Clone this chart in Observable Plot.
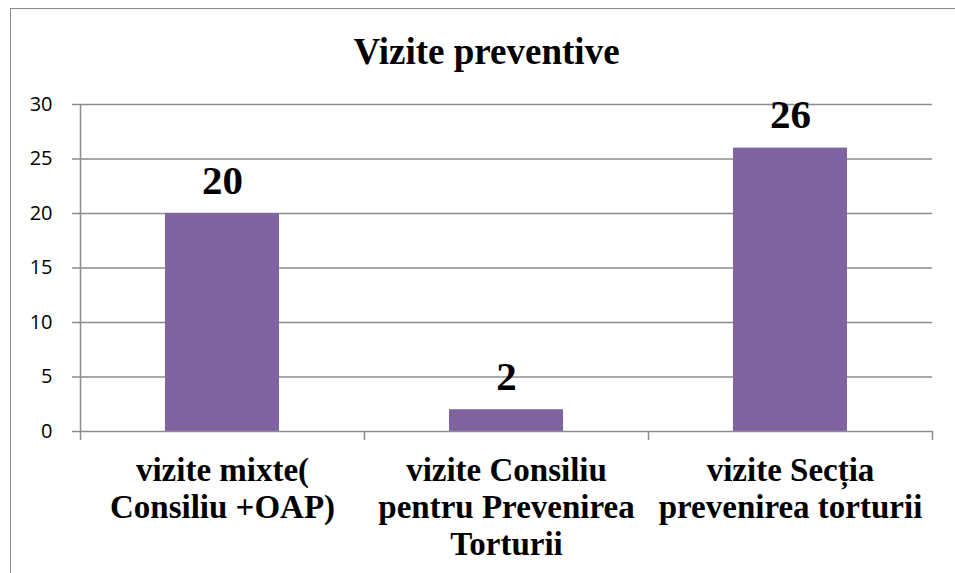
<!DOCTYPE html>
<html>
<head>
<meta charset="utf-8">
<script src="https://cdn.jsdelivr.net/npm/d3@7"></script>
<script src="https://cdn.jsdelivr.net/npm/@observablehq/plot@0.6"></script>
<style>
  html, body { margin: 0; padding: 0; background: #fff; overflow: hidden; }
  #wrap { position: relative; width: 955px; height: 573px; }
  #border { position: absolute; left: 10px; top: 8px; width: 1000px; height: 700px; border: 1px solid #8c8c8c; box-sizing: border-box; }
  #chart { position: absolute; left: 0; top: 0; }
</style>
</head>
<body>
<div id="wrap"><div id="border"></div><div id="chart"></div></div>
<script>
const title = "Vizite preventive";
const categories = [
  "vizite mixte(\nConsiliu +OAP)",
  "vizite Consiliu\npentru Prevenirea\nTorturii",
  "vizite Secția\nprevenirea torturii"
];
const values = [20, 2, 26];
const yTicks = [0, 5, 10, 15, 20, 25, 30];

const data = categories.map((c, i) => ({cat: c, i, value: values[i]}));
const lines = data.flatMap(d => d.cat.split("\n").map((t, k) => ({i: d.i, k, t})));
const bounds = d3.range(categories.length + 1);

const serif = "'Liberation Serif', 'Times New Roman', serif";
const sans = "'Open Sans', sans-serif";
const grid = "#8c8c8c";
const lineBase = [49, 86, 123];

const chart = Plot.plot({
  width: 955,
  height: 573,
  marginLeft: 80,
  marginRight: 23,
  marginTop: 104,
  marginBottom: 142,
  style: {background: "transparent", fontFamily: serif, fontSize: "20px", color: "#000"},
  x: {type: "linear", domain: [0, categories.length], axis: null},
  y: {type: "linear", domain: [0, 30], axis: null},
  marks: [
    Plot.ruleY(yTicks.filter(t => t > 0), {y: d => d, stroke: grid, strokeWidth: 1.5}),
    Plot.rectY(data, {x1: d => d.i, x2: d => d.i + 1, y1: 0, y2: "value", fill: "#8064A2", insetLeft: 85, insetRight: 85}),
    Plot.ruleY([0], {y: d => d, stroke: grid, strokeWidth: 1.5}),
    Plot.ruleX([0], {x: d => d, y1: 0, y2: 30, stroke: grid, strokeWidth: 1.5}),
    Plot.ruleX(bounds, {x: d => d, y1: 0, y2: 0, insetBottom: -9, stroke: grid, strokeWidth: 1.5}),
    Plot.text(yTicks, {x: 0, y: d => d, text: d => String(d), textAnchor: "end", dx: -28,
      fill: "#000", fontFamily: sans, fontSize: 20}),
    Plot.ruleY(yTicks, {y: d => d, x1: 0, x2: 0, insetLeft: -8, stroke: grid, strokeWidth: 1.5}),
    ...lineBase.map((dy, k) => Plot.text(lines.filter(l => l.k === k), {
      x: d => d.i + 0.5, y: 0, text: "t", lineAnchor: "bottom", dy,
      fill: "#000", fontFamily: serif, fontSize: 33, fontWeight: "bold"})),
    Plot.text(data, {x: d => d.i + 0.5, y: "value", text: d => String(d.value), lineAnchor: "bottom", dy: -20,
      fill: "#000", fontFamily: serif, fontSize: 41, fontWeight: "bold"}),
    Plot.text([title], {frameAnchor: "top", lineAnchor: "bottom", dy: -41, dx: -20,
      fill: "#000", fontFamily: serif, fontSize: 37, fontWeight: "bold"})
  ]
});
document.getElementById("chart").appendChild(chart);
</script>
</body>
</html>
